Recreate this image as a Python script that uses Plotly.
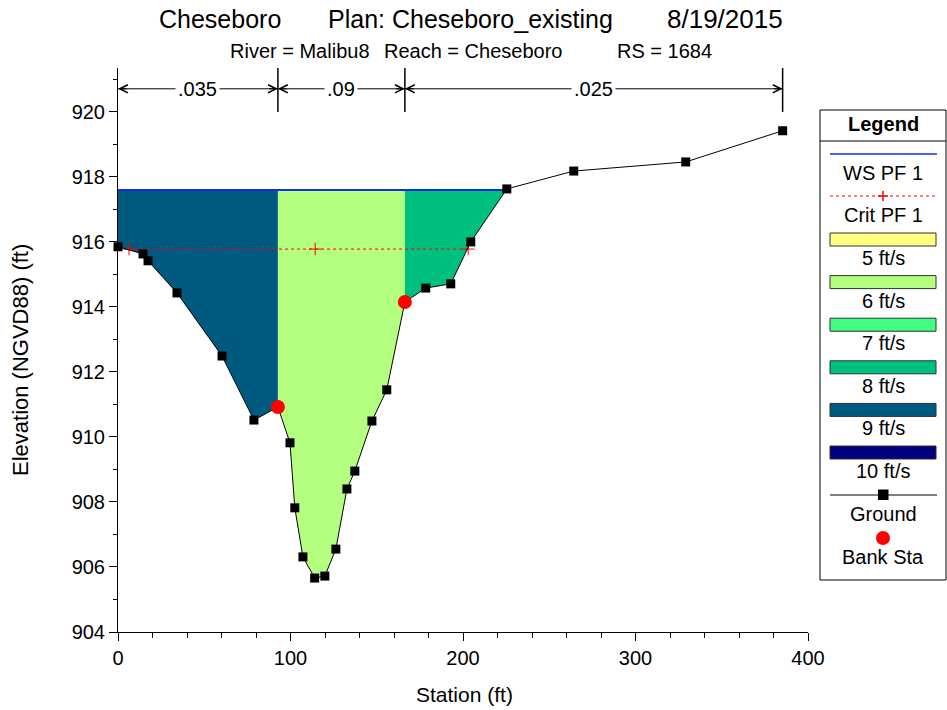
import plotly.graph_objects as go

# ---------------- data ----------------
ground_x = [0, 14.5, 17.4, 34.2, 60.3, 78.8, 92.7, 99.7, 102.5, 107.2, 114.0, 119.9,
            126.3, 132.7, 137.3, 147.2, 155.8, 166.3, 178.4, 192.9, 204.5, 225.4,
            264.2, 329.1, 385.3]
ground_y = [915.85, 915.63, 915.42, 914.43, 912.49, 910.52, 910.92, 909.82, 907.82,
            906.31, 905.66, 905.72, 906.55, 908.40, 908.95, 910.49, 911.45, 914.15,
            914.58, 914.71, 916.00, 917.63, 918.18, 918.46, 919.42]
bank_sta = [92.7, 166.3]
ws_elev = 917.6
ws_sta = [0, 225.4]
crit_elev = 915.78
crit_sta = [6.4, 114.3, 203.0]
n_values = [".035", ".09", ".025"]
n_breaks = [0, 92.7, 166.3, 385.3]
vel_labels = ["5 ft/s", "6 ft/s", "7 ft/s", "8 ft/s", "9 ft/s", "10 ft/s"]
vel_values = [5, 6, 7, 8, 9, 10]
vel_colors = ["#FFFF80", "#B4FF80", "#40FF80", "#00C080", "#005A80", "#000080"]
zone_vel = [9, 6, 8]   # left overbank, channel, right overbank

# ---------------- geometry helpers (layout only) ----------------
W, H = 947, 710
ML, MR, MT, MB = 118, 139, 68, 78
Y_TOP = 921.35
FONT = "Liberation Sans, Arial, sans-serif"


def px(xp):
    return (xp - ML) / (W - ML - MR)


def py(yp):
    return (H - MB - yp) / (H - MT - MB)


fig = go.Figure()

# ---------------- velocity-coloured water zones ----------------
zone_edges = [ws_sta[0], bank_sta[0], bank_sta[1], ws_sta[1]]
for k, v in enumerate(zone_vel):
    a, b = zone_edges[k], zone_edges[k + 1]
    idx = [i for i, s in enumerate(ground_x) if a <= s <= b]
    xs = [a, b] + [ground_x[i] for i in reversed(idx)]
    ys = [ws_elev, ws_elev] + [ground_y[i] for i in reversed(idx)]
    fig.add_trace(go.Scatter(x=xs, y=ys, mode="lines", fill="toself",
                             fillcolor=vel_colors[vel_values.index(v)],
                             line=dict(width=0), hoverinfo="skip", showlegend=False))

# water surface
fig.add_trace(go.Scatter(x=ws_sta, y=[ws_elev] * len(ws_sta), mode="lines",
                         line=dict(color="#1030E0", width=2), showlegend=False))
# critical WS
fig.add_trace(go.Scatter(x=crit_sta, y=[crit_elev] * len(crit_sta), mode="lines+markers",
                         line=dict(color="red", width=1, dash="dot"),
                         marker=dict(symbol="cross-thin", size=9,
                                     line=dict(color="red", width=1)),
                         showlegend=False))
# ground
fig.add_trace(go.Scatter(x=ground_x, y=ground_y, mode="lines+markers",
                         line=dict(color="black", width=1),
                         marker=dict(symbol="square", size=9, color="black"),
                         cliponaxis=False, showlegend=False))
# bank stations
bank_elev = [ground_y[ground_x.index(s)] for s in bank_sta]
fig.add_trace(go.Scatter(x=bank_sta, y=bank_elev, mode="markers",
                         marker=dict(symbol="circle", size=14, color="#FF0000"),
                         cliponaxis=False, showlegend=False))

shapes = []
annotations = []

# ---------------- Manning's n markers ----------------
arrow_y = 920.71
for b in n_breaks[1:]:
    shapes.append(dict(type="line", xref="x", yref="y", x0=b, x1=b, y0=920.0, y1=Y_TOP,
                       line=dict(color="black", width=1.5)))
for i, n in enumerate(n_values):
    a, b = n_breaks[i], n_breaks[i + 1]
    shapes.append(dict(type="line", xref="x", yref="y", x0=a, x1=b, y0=arrow_y, y1=arrow_y,
                       line=dict(color="black", width=1)))
    annotations.append(dict(x=(a + b) / 2, y=arrow_y, xref="x", yref="y", text=n,
                            showarrow=False, bgcolor="white", borderpad=2,
                            font=dict(family=FONT, size=20, color="black")))
    for head, tail in ((a, a + 6), (b, b - 6)):
        annotations.append(dict(x=head, y=arrow_y, ax=tail, ay=arrow_y, xref="x", yref="y",
                                axref="x", ayref="y", text="", showarrow=True,
                                arrowhead=5, arrowsize=1.6, arrowwidth=1,
                                arrowcolor="black", standoff=0))

# ---------------- titles ----------------
for txt, xc, sz in (("Cheseboro", 220, 25), ("Plan: Cheseboro_existing", 470, 25),
                    ("8/19/2015", 725, 26)):
    annotations.append(dict(x=px(xc), y=py(19), xref="paper", yref="paper", text=txt,
                            showarrow=False, xanchor="center", yanchor="middle",
                            font=dict(family=FONT, size=sz, color="black")))
for txt, xc in (("River = Malibu8", 300), ("Reach = Cheseboro", 473), ("RS = 1684", 664)):
    annotations.append(dict(x=px(xc), y=py(51), xref="paper", yref="paper", text=txt,
                            showarrow=False, xanchor="center", yanchor="middle",
                            font=dict(family=FONT, size=20, color="black")))
annotations.append(dict(x=px(464), y=py(694), xref="paper", yref="paper", text="Station (ft)",
                        showarrow=False, xanchor="center", yanchor="middle",
                        font=dict(family=FONT, size=21, color="black")))
annotations.append(dict(x=px(20), y=py(360), xref="paper", yref="paper",
                        text="Elevation (NGVD88) (ft)", textangle=-90,
                        showarrow=False, xanchor="center", yanchor="middle",
                        font=dict(family=FONT, size=22, color="black")))

# ---------------- custom legend ----------------
LX0, LX1, LXC = 820, 946, 883
shapes.append(dict(type="rect", xref="paper", yref="paper", x0=px(LX0), x1=px(LX1),
                   y0=py(110), y1=py(580), line=dict(color="black", width=1),
                   fillcolor="white", layer="below"))
shapes.append(dict(type="line", xref="paper", yref="paper", x0=px(LX0), x1=px(LX1),
                   y0=py(141), y1=py(141), line=dict(color="black", width=1)))


def leg_text(txt, yc, bold=False):
    annotations.append(dict(x=px(LXC), y=py(yc), xref="paper", yref="paper",
                            text=f"<b>{txt}</b>" if bold else txt, showarrow=False,
                            xanchor="center", yanchor="middle",
                            font=dict(family=FONT, size=20, color="black")))


leg_text("Legend", 124, bold=True)
# WS
shapes.append(dict(type="line", xref="paper", yref="paper", x0=px(830), x1=px(937),
                   y0=py(154), y1=py(154), line=dict(color="#1030E0", width=1.5)))
leg_text("WS PF 1", 173)
# Crit
shapes.append(dict(type="line", xref="paper", yref="paper", x0=px(830), x1=px(937),
                   y0=py(196), y1=py(196), line=dict(color="red", width=1, dash="dot")))
shapes.append(dict(type="line", xref="paper", yref="paper", x0=px(878), x1=px(888),
                   y0=py(196), y1=py(196), line=dict(color="red", width=1.5)))
shapes.append(dict(type="line", xref="paper", yref="paper", x0=px(883), x1=px(883),
                   y0=py(191), y1=py(201), line=dict(color="red", width=1.5)))
leg_text("Crit PF 1", 215)
# velocity swatches
for j, (lab, col) in enumerate(zip(vel_labels, vel_colors)):
    top = 233 + j * 42.6
    shapes.append(dict(type="rect", xref="paper", yref="paper", x0=px(830), x1=px(936),
                       y0=py(top), y1=py(top + 13), fillcolor=col,
                       line=dict(color="#303030", width=1)))
    leg_text(lab, top + 25)
# Ground
shapes.append(dict(type="line", xref="paper", yref="paper", x0=px(830), x1=px(937),
                   y0=py(495), y1=py(495), line=dict(color="black", width=1)))
shapes.append(dict(type="rect", xref="paper", yref="paper", x0=px(878), x1=px(888.5),
                   y0=py(489.5), y1=py(500), fillcolor="black", line=dict(width=0)))
leg_text("Ground", 514)
# Bank Sta
shapes.append(dict(type="circle", xref="paper", yref="paper", x0=px(876), x1=px(890),
                   y0=py(531), y1=py(545), fillcolor="#FF0000", line=dict(width=0)))
leg_text("Bank Sta", 557)

fig.update_layout(
    width=W, height=H,
    margin=dict(l=ML, r=MR, t=MT, b=MB, pad=0),
    plot_bgcolor="white", paper_bgcolor="white",
    showlegend=False,
    shapes=shapes, annotations=annotations,
    font=dict(family=FONT, color="black"),
    xaxis=dict(range=[0, 400], tick0=0, dtick=100, showline=True, linecolor="black",
               linewidth=1, ticks="outside", ticklen=8, tickcolor="black", showgrid=False,
               zeroline=False, tickfont=dict(family=FONT, size=20, color="black"),
               minor=dict(dtick=20, ticks="outside", ticklen=5, tickcolor="black",
                          showgrid=False)),
    yaxis=dict(range=[904, Y_TOP], tick0=904, dtick=2, showline=True, linecolor="black",
               linewidth=1, ticks="outside", ticklen=8, tickcolor="black", showgrid=False,
               zeroline=False, tickfont=dict(family=FONT, size=20, color="black"),
               minor=dict(dtick=1, ticks="outside", ticklen=4, tickcolor="black",
                          showgrid=False)),
)

fig.write_html("out.html",
               config={"displayModeBar": False},
               post_script="document.body.style.margin='0px';"
                           "document.body.style.overflow='hidden';")
